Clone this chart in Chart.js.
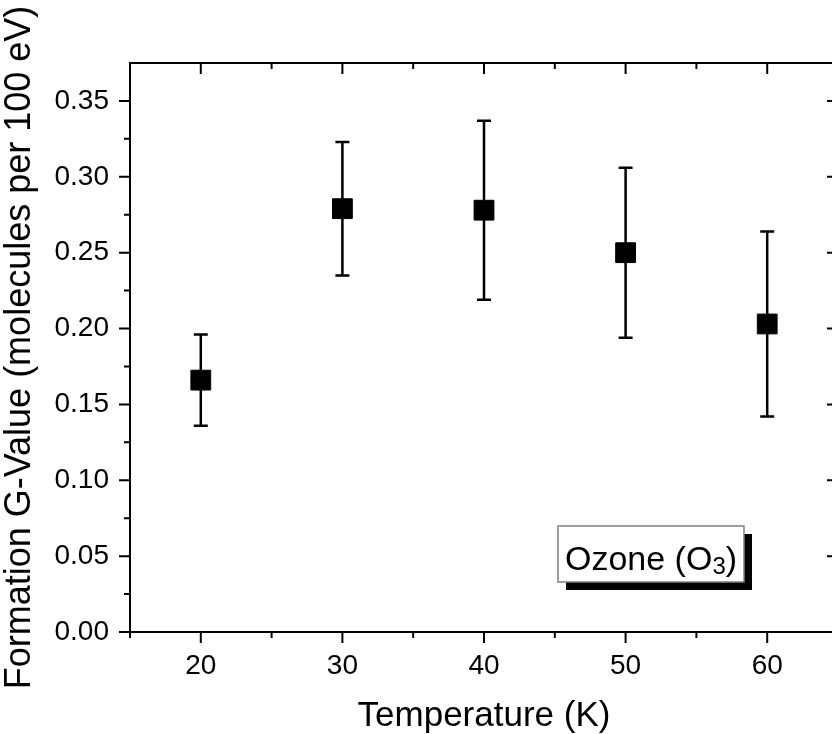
<!DOCTYPE html>
<html>
<head>
<meta charset="utf-8">
<title>Ozone formation G-value</title>
<script src="https://cdn.jsdelivr.net/npm/chart.js@4.4.0/dist/chart.umd.min.js"></script>
<style>
  html, body { margin: 0; padding: 0; background: #fff; overflow: hidden; }
  #wrap { width: 860px; height: 734px; }
</style>
</head>
<body>
<div id="wrap"><canvas id="chart" width="860" height="734"></canvas></div>
<script>
// data
const temps = [20, 30, 40, 50, 60];
const gValues = [0.166, 0.279, 0.278, 0.250, 0.203];
const gErrors = [0.030, 0.044, 0.059, 0.056, 0.061];

const xTicks = [20, 30, 40, 50, 60];
const xMinor = [15, 25, 35, 45, 55, 65];
const yTicks = [0, 0.05, 0.10, 0.15, 0.20, 0.25, 0.30, 0.35];
const yMinor = [0.025, 0.075, 0.125, 0.175, 0.225, 0.275, 0.325];

const xTitle = 'Temperature (K)';
const yTitle = 'Formation G-Value (molecules per 100 eV)';
const boxText = 'Ozone (O';
const boxSub = '3';

const FONT = "'Liberation Sans', Arial, sans-serif";

// error bars, drawn under the squares
const errorBars = {
  id: 'errorBars',
  beforeDatasetsDraw(chart) {
    const {ctx, scales: {x, y}} = chart;
    ctx.save();
    ctx.strokeStyle = '#000';
    ctx.lineWidth = 2.5;
    temps.forEach((t, i) => {
      const px = x.getPixelForValue(t);
      const top = y.getPixelForValue(gValues[i] + gErrors[i]);
      const bot = y.getPixelForValue(gValues[i] - gErrors[i]);
      ctx.beginPath();
      ctx.moveTo(px, top); ctx.lineTo(px, bot);
      ctx.moveTo(px - 7, top); ctx.lineTo(px + 7, top);
      ctx.moveTo(px - 7, bot); ctx.lineTo(px + 7, bot);
      ctx.stroke();
    });
    ctx.restore();
  }
};

// box frame with major / minor ticks like Origin
const frame = {
  id: 'frame',
  afterDraw(chart) {
    const {ctx, chartArea: a, scales: {x, y}} = chart;
    const major = 11, minor = 6;
    ctx.save();
    ctx.strokeStyle = '#000';
    ctx.lineWidth = 2;
    ctx.strokeRect(a.left, a.top, a.right - a.left, a.bottom - a.top);
    ctx.beginPath();
    const xt = (v, len) => {
      const px = x.getPixelForValue(v);
      ctx.moveTo(px, a.bottom); ctx.lineTo(px, a.bottom + len);   // out
      ctx.moveTo(px, a.top); ctx.lineTo(px, a.top + len);         // in
    };
    const yt = (v, len) => {
      const py = y.getPixelForValue(v);
      ctx.moveTo(a.left, py); ctx.lineTo(a.left - len, py);       // out
      ctx.moveTo(a.right, py); ctx.lineTo(a.right - len, py);     // in
    };
    xTicks.forEach(v => xt(v, major));
    xMinor.forEach(v => xt(v, minor));
    yTicks.forEach(v => yt(v, major));
    yMinor.forEach(v => yt(v, minor));
    ctx.stroke();
    ctx.restore();
  }
};

// "Ozone (O3)" label with drop shadow
const labelBox = {
  id: 'labelBox',
  afterDraw(chart) {
    const {ctx} = chart;
    const bx = 558, by = 526, bw = 186, bh = 56;
    ctx.save();
    ctx.fillStyle = '#000';
    ctx.fillRect(bx + 8, by + 8, bw, bh);
    ctx.fillStyle = '#fff';
    ctx.fillRect(bx, by, bw, bh);
    ctx.strokeStyle = '#808080';
    ctx.lineWidth = 1.5;
    ctx.strokeRect(bx, by, bw, bh);
    ctx.fillStyle = '#000';
    ctx.textBaseline = 'alphabetic';
    ctx.font = '34px ' + FONT;
    let tx = bx + 7;
    ctx.fillText(boxText, tx, by + 44);
    tx += ctx.measureText(boxText).width;
    ctx.font = '24px ' + FONT;
    ctx.fillText(boxSub, tx, by + 48);
    tx += ctx.measureText(boxSub).width;
    ctx.font = '34px ' + FONT;
    ctx.fillText(')', tx, by + 44);
    ctx.restore();
  }
};

const chart = new Chart(document.getElementById('chart'), {
  type: 'scatter',
  data: {
    datasets: [{
      label: 'Ozone (O3)',
      data: temps.map((t, i) => ({x: t, y: gValues[i]})),
      pointStyle: 'rect',
      pointRadius: 14,
      pointHoverRadius: 14,
      backgroundColor: '#000',
      borderColor: '#000',
      borderWidth: 1
    }]
  },
  options: {
    responsive: false,
    animation: false,
    layout: { padding: { left: 0, right: 22, top: 63, bottom: 0 } },
    plugins: {
      legend: { display: false },
      tooltip: { enabled: false }
    },
    scales: {
      x: {
        type: 'linear',
        min: 15,
        max: 65,
        afterBuildTicks: s => { s.ticks = xTicks.map(v => ({value: v})); },
        afterFit: s => { s.height = 102; },
        grid: { display: false, drawTicks: false },
        border: { display: false },
        ticks: {
          padding: 17,
          color: '#000',
          font: { family: FONT, size: 28 }
        },
        title: {
          display: true,
          text: xTitle,
          color: '#000',
          font: { family: FONT, size: 35, lineHeight: 1 },
          padding: { top: 0, bottom: 0 }
        }
      },
      y: {
        type: 'linear',
        min: 0,
        max: 0.375,
        afterBuildTicks: s => { s.ticks = yTicks.map(v => ({value: v})); },
        afterFit: s => { s.width = 130; },
        grid: { display: false, drawTicks: false },
        border: { display: false },
        ticks: {
          padding: 21,
          color: '#000',
          font: { family: FONT, size: 28 },
          callback: v => v.toFixed(2)
        },
        title: {
          display: true,
          text: yTitle,
          color: '#000',
          font: { family: FONT, size: 36, lineHeight: 1 },
          padding: { top: 2, bottom: 0 }
        }
      }
    }
  },
  plugins: [errorBars, frame, labelBox]
});
</script>
</body>
</html>
